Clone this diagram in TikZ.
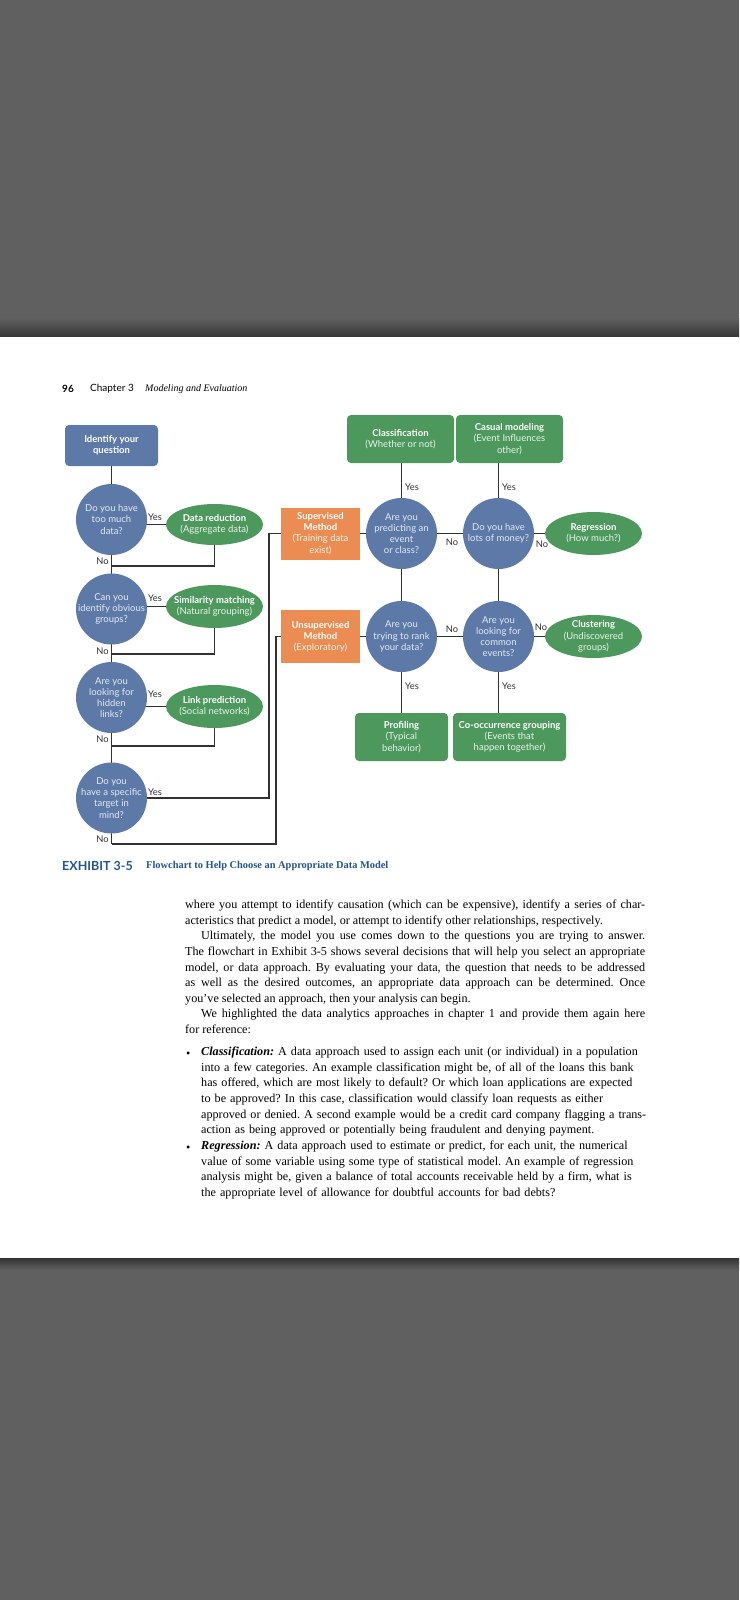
\documentclass[tikz,border=0pt]{standalone}
\usepackage{fontspec}
\setmainfont{Liberation Serif}
\setsansfont{Lato}
\usetikzlibrary{shapes.geometric,backgrounds}
\definecolor{bggray}{RGB}{96,96,96}
\definecolor{qblue}{RGB}{92,121,168}
\definecolor{rgreen}{RGB}{76,152,93}
\definecolor{morange}{RGB}{235,140,82}
\definecolor{linec}{RGB}{50,50,50}
\definecolor{qtext}{RGB}{228,233,242}
\definecolor{subw}{RGB}{235,242,236}
\definecolor{capblue}{RGB}{35,85,145}
\frenchspacing
\begin{document}
\begin{tikzpicture}[x=1pt,y=-1pt,
 dfont/.style={font=\sffamily\fontsize{9.5}{11.2}\selectfont},
 qnode/.style={circle,fill=qblue,minimum size=71pt,inner sep=0pt},
 qtx/.style={text=qtext,align=center,dfont,inner sep=0pt},
 rnode/.style={ellipse,fill=rgreen,minimum width=97pt,minimum height=43pt,inner sep=0pt},
 rtx/.style={text=white,align=center,dfont,inner sep=0pt},
 gbox/.style={rectangle,rounded corners=4pt,fill=rgreen,text=white,align=center,dfont,inner sep=0pt},
 bbox/.style={rectangle,rounded corners=4pt,fill=qblue,text=white,align=center,dfont,inner sep=0pt},
 obox/.style={rectangle,fill=morange,text=white,align=center,dfont,inner sep=0pt},
 conn/.style={draw=linec,line width=1.4pt},
 yn/.style={text=linec,font=\sffamily\fontsize{9.3}{11}\selectfont,inner sep=0pt},
 bodyfont/.style={font=\fontsize{12.15}{15.6}\selectfont},
]
\useasboundingbox (0,0) rectangle (739,1600);
\begin{scope}[on background layer]
\fill[bggray] (0,0) rectangle (739,1600);
\shade[top color=bggray, bottom color=bggray!55!black] (0,318) rectangle (739,337);
\fill[white] (0,337) rectangle (739,1258);
\shade[top color=bggray!55!black, bottom color=bggray] (0,1258) rectangle (739,1270);
\end{scope}

% header
\node[anchor=west,inner sep=0pt,font=\sffamily\bfseries\fontsize{10}{12}\selectfont] (pg) at (62,389) {96};
\node[anchor=west,inner sep=0pt,font=\sffamily\fontsize{10}{12}\selectfont] (chap) at (90,389) {Chapter 3};
\node[anchor=west,inner sep=0pt,font=\itshape\fontsize{10}{12}\selectfont] (chapt) at (145,389) {Modeling and Evaluation};

% left column
\node[bbox,minimum width=93pt,minimum height=41pt] (id) at (111.5,445.5) {\textbf{Identify your}\\\textbf{question}};
\node[qnode,label={[qtx]center:{Do you have\\too much\\data?}}] (q1) at (111.5,519.5) {};
\node[qnode,label={[qtx]center:{Can you\\identify obvious\\groups?}}] (q2) at (111.5,609) {};
\node[qnode,label={[qtx]center:{Are you\\looking for\\hidden\\links?}}] (q3) at (111.5,697.5) {};
\node[qnode,label={[qtx]center:{Do you\\have a specific\\target in\\mind?}}] (q4) at (111.5,798) {};

\node[rnode,minimum height=41pt,label={[rtx]center:{\textbf{Data reduction}\\{\color{subw}(Aggregate data)}}}] (e1) at (214.5,524.5) {};
\node[rnode,label={[rtx]center:{\textbf{Similarity matching}\\{\color{subw}(Natural grouping)}}}] (e2) at (214.5,606.5) {};
\node[rnode,label={[rtx]center:{\textbf{Link prediction}\\{\color{subw}(Social networks)}}}] (e3) at (214.5,706.5) {};

% methods
\node[obox,minimum width=79pt,minimum height=52pt] (sup) at (320.5,533.5) {\textbf{Supervised}\\\textbf{Method}\\{\color{subw}(Training data}\\{\color{subw}exist)}};
\node[obox,minimum width=79pt,minimum height=53pt] (uns) at (320.5,636.5) {\textbf{Unsupervised}\\\textbf{Method}\\{\color{subw}(Exploratory)}};

% right grid
\node[qnode,label={[qtx]center:{Are you\\predicting an\\event\\or class?}}] (qa) at (401.5,533.5) {};
\node[qnode,label={[qtx]center:{Do you have\\lots of money?}}] (qb) at (498.5,533.5) {};
\node[qnode,label={[qtx]center:{Are you\\trying to rank\\your data?}}] (qc) at (401.5,636.5) {};
\node[qnode,label={[qtx]center:{Are you\\looking for\\common\\events?}}] (qd) at (498.5,636.5) {};

\node[gbox,minimum width=107pt,minimum height=48pt] (cls) at (400.5,439) {\textbf{Classification}\\{\color{subw}(Whether or not)}};
\node[gbox,minimum width=107pt,minimum height=48pt] (cas) at (509.5,439) {\textbf{Casual modeling}\\{\color{subw}(Event Influences}\\{\color{subw}other)}};
\node[rnode,label={[rtx]center:{\textbf{Regression}\\{\color{subw}(How much?)}}}] (reg) at (593.5,533.5) {};
\node[rnode,label={[rtx]center:{\textbf{Clustering}\\{\color{subw}(Undiscovered}\\{\color{subw}groups)}}}] (clu) at (593.5,636.5) {};
\node[gbox,minimum width=93pt,minimum height=48pt] (prof) at (401.5,737) {\textbf{Profiling}\\{\color{subw}(Typical}\\{\color{subw}behavior)}};
\node[gbox,minimum width=113pt,minimum height=48pt] (cooc) at (509.5,737) {\textbf{Co-occurrence grouping}\\{\color{subw}(Events that}\\{\color{subw}happen together)}};

% junction coordinates
\coordinate (j1) at (111.5,566);
\coordinate (j2) at (111.5,654);
\coordinate (j3) at (111.5,746);
\coordinate (j4) at (111.5,844);
\coordinate (bS) at (269,798);
\coordinate (bU) at (276,844);

\begin{scope}[on background layer]
\draw[conn] (id.center) -- (j4);
\draw[conn] (q1.center |- e1.center) -- (e1.center) |- (j1);
\draw[conn] (q2.center |- e2.center) -- (e2.center) |- (j2);
\draw[conn] (q3.center |- e3.center) -- (e3.center) |- (j3);
\draw[conn] (q4.center) -- (bS) |- (sup.center);
\draw[conn] (j4) -- (bU) |- (uns.center);
\draw[conn] (sup.center) -- (qa.center) -- (qb.center) -- (reg.center);
\draw[conn] (uns.center) -- (qc.center) -- (qd.center) -- (clu.center);
\draw[conn] (qa.center |- cls.center) -- (qa.center |- prof.center);
\draw[conn] (qb.center |- cas.center) -- (qb.center |- cooc.center);
\end{scope}

% yes / no labels
\node[yn] (y1) at (155,517) {Yes};
\node[yn] (y2) at (155,598) {Yes};
\node[yn] (y3) at (155,694) {Yes};
\node[yn] (y4) at (155,792) {Yes};
\node[yn] (n1) at (102.5,561) {No};
\node[yn] (n2) at (102.5,651) {No};
\node[yn] (n3) at (102.5,739) {No};
\node[yn] (n4) at (102.5,839) {No};
\node[yn] (ya) at (412,487) {Yes};
\node[yn] (yb) at (509,487) {Yes};
\node[yn] (nab) at (452,542) {No};
\node[yn] (nbr) at (542,544) {No};
\node[yn] (ncd) at (452,629) {No};
\node[yn] (ndc) at (541,627) {No};
\node[yn] (yc) at (412,686) {Yes};
\node[yn] (yd) at (509,686) {Yes};

% caption
\node[anchor=west,inner sep=0pt,text=capblue,font=\sffamily\bfseries\fontsize{12.5}{14}\selectfont] (exh) at (62,866) {EXHIBIT 3-5};
\node[anchor=west,inner sep=0pt,text=capblue,font=\bfseries\fontsize{10.4}{12}\selectfont] (capt) at (146,866) {Flowchart to Help Choose an Appropriate Data Model};

% body text
\node[anchor=north west,inner sep=0pt,text width=460pt,align=justify,bodyfont] (body) at (185,900) {%
where you attempt to identify causation (which can be expensive), identify a series of char-\linebreak acteristics that predict a model, or attempt to identify other relationships, respectively.\par
\hspace*{16pt}Ultimately, the model you use comes down to the questions you are trying to answer.\linebreak The flowchart in Exhibit 3-5 shows several decisions that will help you select an appropriate\linebreak model, or data approach. By evaluating your data, the question that needs to be addressed\linebreak as well as the desired outcomes, an appropriate data approach can be determined. Once\linebreak you've selected an approach, then your analysis can begin.\par
\hspace*{16pt}We highlighted the data analytics approaches in chapter 1 and provide them again here\linebreak for reference:};

\node[anchor=west,inner sep=0pt,bodyfont] (b1) at (186,1055) {•};
\node[anchor=west,inner sep=0pt,bodyfont] (b2) at (186,1149) {•};
\node[anchor=north west,inner sep=0pt,text width=452pt,align=left,bodyfont] (item1) at (201,1047) {%
\textbf{\textit{Classification:}} A data approach used to assign each unit (or individual) in a population\\
into a few categories. An example classification might be, of all of the loans this bank\\
has offered, which are most likely to default? Or which loan applications are expected\\
to be approved? In this case, classification would classify loan requests as either\\
approved or denied. A second example would be a credit card company flagging a trans-\\
action as being approved or potentially being fraudulent and denying payment.};
\node[anchor=north west,inner sep=0pt,text width=452pt,align=left,bodyfont] (item2) at (201,1141) {%
\textbf{\textit{Regression:}} A data approach used to estimate or predict, for each unit, the numerical\\
value of some variable using some type of statistical model. An example of regression\\
analysis might be, given a balance of total accounts receivable held by a firm, what is\\
the appropriate level of allowance for doubtful accounts for bad debts?};
\end{tikzpicture}
\end{document}
